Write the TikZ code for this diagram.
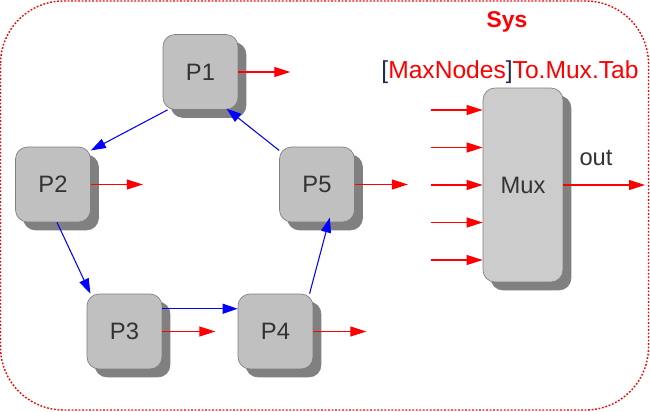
\documentclass[tikz,border=0pt]{standalone}
\usepackage{fontspec}
\setmainfont{Liberation Sans}
\usetikzlibrary{arrows.meta, shadows}
\definecolor{boxgray}{HTML}{C0C0C0}
\definecolor{muxgray}{HTML}{CCCCCC}
\definecolor{shgray}{HTML}{808080}
\definecolor{txtgray}{HTML}{333333}
\definecolor{brk}{HTML}{1C2E4A}
\tikzset{
    pnode/.style={rectangle,rounded corners=0.24cm,draw=shgray,fill=boxgray,
        text=txtgray,minimum width=1.5cm,minimum height=1.5cm,inner sep=0pt,
        font=\fontsize{13.5}{16}\selectfont,
        drop shadow={shadow xshift=0.16cm,shadow yshift=-0.16cm,
            fill=shgray,draw=shgray,opacity=1}},
    mnode/.style={pnode,fill=muxgray,minimum width=1.6cm,minimum height=3.88cm},
    sig/.style={draw=red,line width=0.6pt,-{Triangle[length=0.32cm,width=0.2cm]}},
    link/.style={draw=blue,line width=0.6pt,-{Triangle[length=0.3cm,width=0.2cm]}},
    tt/.style={font=\fontsize{13.5}{16}\selectfont,inner sep=0pt,text=txtgray},
}
\begin{document}
\begin{tikzpicture}[x=0.02cm,y=-0.02cm]
\useasboundingbox (0,0) rectangle (650,412);
\draw[red,line width=0.8pt,dash pattern=on 1pt off 1pt,rounded corners=1.26cm]
    (0.5,1) rectangle (648.5,410);
\node[tt,text=red,font=\fontsize{13}{16}\selectfont\bfseries] (sys) at (507,22) {Sys};
\node[tt,text=red,font=\fontsize{14}{16}\selectfont] (tab) at (510,72)
    {\textcolor{brk}{[}MaxNodes\textcolor{brk}{]}To.Mux.Tab};
\node[pnode] (P1) at (200.5,72) {P1};
\node[pnode] (P2) at (53,184.5) {P2};
\node[pnode] (P3) at (124.5,331.5) {P3};
\node[pnode] (P4) at (275.5,331.5) {P4};
\node[pnode] (P5) at (317,184.5) {P5};
\node[mnode] (Mux) at (523,185) {Mux};
\draw[sig] (P1.east) -- ++(52,0);
\draw[sig] (P2.east) -- ++(52,0);
\draw[sig] (P3.east) -- ++(53,0);
\draw[sig] (P4.east) -- ++(53,0);
\draw[sig] (P5.east) -- ++(53,0);
\path
    (P1.229) edge[link] (P2.42)
    (P2.276) edge[link] (P3.132)
    (P3.31) edge[link] (P4.149)
    (P4.48) edge[link,shorten >=-0.1cm] (P5.287)
    (P5.138) edge[link,shorten >=-0.04cm] (P1.306)
;
\foreach \y [count=\i] in {110,147.5,185,222.5,260} {
    \coordinate (in\i) at (431,\y);
    \draw[sig] (in\i) -- (in\i -| Mux.west);
}
\coordinate (muxout) at (645,185);
\draw[sig] (Mux.east) -- node[tt,above=0.38cm,pos=0.4] {out} (muxout);
\end{tikzpicture}
\end{document}
